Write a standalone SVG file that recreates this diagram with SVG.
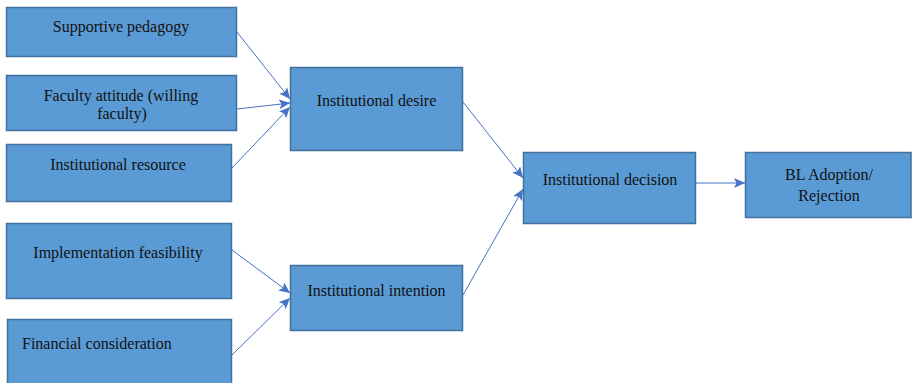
<svg xmlns="http://www.w3.org/2000/svg" width="912" height="383" viewBox="0 0 912 383">
<defs>
<marker id="ah" markerUnits="userSpaceOnUse" markerWidth="12" markerHeight="10" refX="11" refY="5" orient="auto">
<path d="M0,0 L11,5 L0,10 L2.5,5 Z" fill="#4472C4"/>
</marker>
<style>
.box{fill:#5B9BD5;stroke:#41719C;stroke-width:1.5}
.t{font-family:"Liberation Serif","Times New Roman",serif;font-size:16px;fill:#111}
.c{text-anchor:middle}
.ln{stroke:#4472C4;stroke-width:1;fill:none;marker-end:url(#ah)}
</style>
</defs>
<rect width="912" height="383" fill="#fff"/>
<g id="n1"><rect class="box" x="6.5" y="7.5" width="230" height="49"/><text class="t c" x="121" y="32">Supportive pedagogy</text></g>
<g id="n2"><rect class="box" x="6.5" y="75.5" width="230" height="55"/><text class="t c" x="121" y="101">Faculty attitude (willing</text><text class="t c" x="122" y="119">faculty)</text></g>
<g id="n3"><rect class="box" x="6.5" y="144.5" width="225" height="57"/><text class="t c" x="118" y="170">Institutional resource</text></g>
<g id="n4"><rect class="box" x="6.5" y="223.5" width="225" height="75"/><text class="t c" x="118" y="258">Implementation feasibility</text></g>
<g id="n5"><rect class="box" x="7.5" y="319.5" width="224" height="70"/><text class="t" x="22" y="349">Financial consideration</text></g>
<g id="n6"><rect class="box" x="290.5" y="67.5" width="172" height="83"/><text class="t c" x="376.5" y="106">Institutional desire</text></g>
<g id="n7"><rect class="box" x="290.5" y="265.5" width="172" height="65"/><text class="t c" x="376.5" y="296">Institutional intention</text></g>
<g id="n8"><rect class="box" x="523.5" y="152.5" width="172" height="71"/><text class="t c" x="610" y="185">Institutional decision</text></g>
<g id="n9"><rect class="box" x="745.5" y="152.5" width="165.5" height="65"/><text class="t c" x="829" y="180">BL Adoption/</text><text class="t c" x="829" y="201">Rejection</text></g>
<g id="connectors">
<line class="ln" x1="237" y1="32" x2="290" y2="99"/>
<line class="ln" x1="237" y1="109" x2="290" y2="103"/>
<line class="ln" x1="232" y1="168" x2="290" y2="107"/>
<line class="ln" x1="463" y1="102" x2="523" y2="178"/>
<line class="ln" x1="463" y1="295" x2="523" y2="189"/>
<line class="ln" x1="696" y1="183" x2="745" y2="183"/>
<line class="ln" x1="232" y1="250" x2="290" y2="293"/>
<line class="ln" x1="232" y1="355" x2="290" y2="298"/>
</g>
</svg>
